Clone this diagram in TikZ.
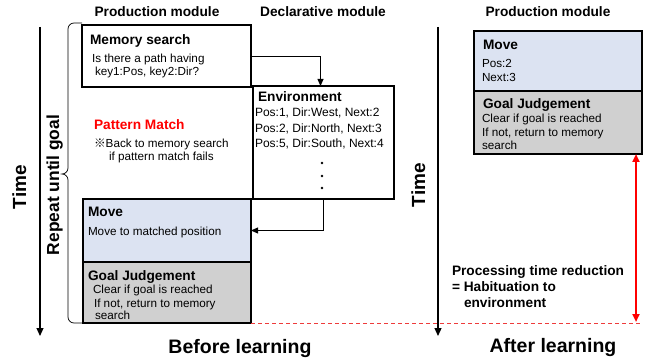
\documentclass[tikz,border=0pt]{standalone}
\usepackage{fontspec}
\setmainfont{Liberation Sans}
\newfontfamily\cjkfont{Noto Sans CJK JP}
\usetikzlibrary{arrows.meta}
\definecolor{moveblue}{HTML}{DCE3F2}
\definecolor{judgegray}{HTML}{D0D0D0}
\definecolor{dashred}{HTML}{EE3B3B}

\begin{document}
\begin{tikzpicture}[x=1pt,y=-1pt,
  every node/.style={inner sep=0pt, outer sep=0pt},
  panel/.style={draw, line width=1.2pt, anchor=north west},
  hd/.style={font=\bfseries\fontsize{13.7}{16}\selectfont, anchor=base west},
  txt/.style={font=\fontsize{11.7}{14}\selectfont, anchor=base west},
  envtxt/.style={font=\fontsize{12}{14}\selectfont, anchor=base west},
  coltitle/.style={font=\bfseries\fontsize{13.7}{16}\selectfont, anchor=base},
  phase/.style={font=\bfseries\fontsize{19.5}{22}\selectfont, anchor=base},
  link/.style={line width=0.8pt, -{Triangle[length=7pt,width=6pt]}},
  timeline/.style={line width=1.2pt, -{Triangle[length=8pt,width=7pt]}},
]
\useasboundingbox (0,0) rectangle (645,358);

% column titles
\node[coltitle] (pt1) at (157,17) {Production module};
\node[coltitle] (dt1) at (323,17) {Declarative module};
\node[coltitle] (pt2) at (548,17) {Production module};

% time axes
\coordinate (tA) at (40,27);
\coordinate (tB) at (40,336);
\draw[timeline] (tA) -- (tB);
\node[font=\bfseries\fontsize{19}{22}\selectfont, rotate=90, anchor=base] (time1) at (26,187) {Time};
\node[font=\bfseries\fontsize{17.4}{20}\selectfont, rotate=90, anchor=base] (rep) at (59,185) {Repeat until goal};

\coordinate (tC) at (438,27);
\coordinate (tD) at (438,336);
\draw[timeline] (tC) -- (tD);
\node[font=\bfseries\fontsize{19}{22}\selectfont, rotate=90, anchor=base] (time2) at (425,185) {Time};

% loop brace
\draw[line width=0.7pt] (82,23) -- (74,23) to[out=180,in=90] (68,29) -- (68,168)
  to[out=-90,in=0] (62,174) to[out=0,in=90] (68,180) -- (68,317)
  to[out=-90,in=180] (74,323) -- (82,323);

% before learning: production module
\node[panel, minimum width=169pt, minimum height=62pt] (mem) at (82,25) {};
\node[hd] (memh) at (90,45) {Memory search};
\node[txt] (mem1) at (92,63) {Is there a path having};
\node[txt] (mem2) at (95,76) {key1:Pos, key2:Dir?};

\node[font=\bfseries\fontsize{13.7}{16}\selectfont, text=red, anchor=base west] (pm) at (94,130) {Pattern Match};
\node[txt] (pm1) at (94,148) {{\cjkfont ※}Back to memory search};
\node[txt] (pm2) at (109,161) {if pattern match fails};

\node[panel, fill=moveblue, minimum width=168pt, minimum height=63pt] (move) at (83,199) {};
\node[hd] (moveh) at (88,217) {Move};
\node[txt] (move1) at (88,235) {Move to matched position};

\node[panel, fill=judgegray, minimum width=168pt, minimum height=61pt] (goal) at (83,262) {};
\node[hd] (goalh) at (88,280) {Goal Judgement};
\node[txt] (goal1) at (93,293) {Clear if goal is reached};
\node[txt] (goal2) at (94,307) {If not, return to memory};
\node[txt] (goal3) at (95,319) {search};

% declarative module
\node[panel, minimum width=141pt, minimum height=113pt] (env) at (253,86) {};
\node[hd] (envh) at (258,102) {Environment};
\node[envtxt] (env1) at (255,117) {Pos:1, Dir:West, Next:2};
\node[envtxt] (env2) at (255,133) {Pos:2, Dir:North, Next:3};
\node[envtxt] (env3) at (255,148) {Pos:5, Dir:South, Next:4};
\foreach \yy in {163,176,188} \fill (322,\yy) circle (1.3pt);

\draw[link] (mem.east) -| ([xshift=-3pt]env.north);
\draw[link] (env.south) |- (move.east);

\node[phase] (before) at (240,353) {Before learning};

% after learning: production module
\node[panel, fill=moveblue, minimum width=168pt, minimum height=60pt] (moveB) at (474,31) {};
\node[hd] (moveBh) at (483,50) {Move};
\node[txt] (moveB1) at (482,68) {Pos:2};
\node[txt] (moveB2) at (482,82) {Next:3};

\node[panel, fill=judgegray, minimum width=168pt, minimum height=63pt] (goalB) at (474,91) {};
\node[hd] (goalBh) at (483,109) {Goal Judgement};
\node[txt] (goalB1) at (482,123) {Clear if goal is reached};
\node[txt] (goalB2) at (482,137) {If not, return to memory};
\node[txt] (goalB3) at (482,150) {search};

% time saving
\coordinate (dr) at (640,323);
\draw[dashred, dash pattern=on 4pt off 3pt, line width=0.8pt] (goal.south east) -- (dr);
\coordinate (rtop) at (636,154);
\coordinate (rbot) at (636,322);
\draw[red, line width=2pt, {Triangle[length=8pt,width=7pt]}-{Triangle[length=8pt,width=7pt]}] (rtop) -- (rbot);

\node[hd] (red1) at (452,275) {Processing time reduction};
\node[hd] (red2) at (452,291) {= Habituation to};
\node[hd] (red3) at (464,307) {environment};

\node[phase] (after) at (553,352) {After learning};
\end{tikzpicture}
\end{document}
